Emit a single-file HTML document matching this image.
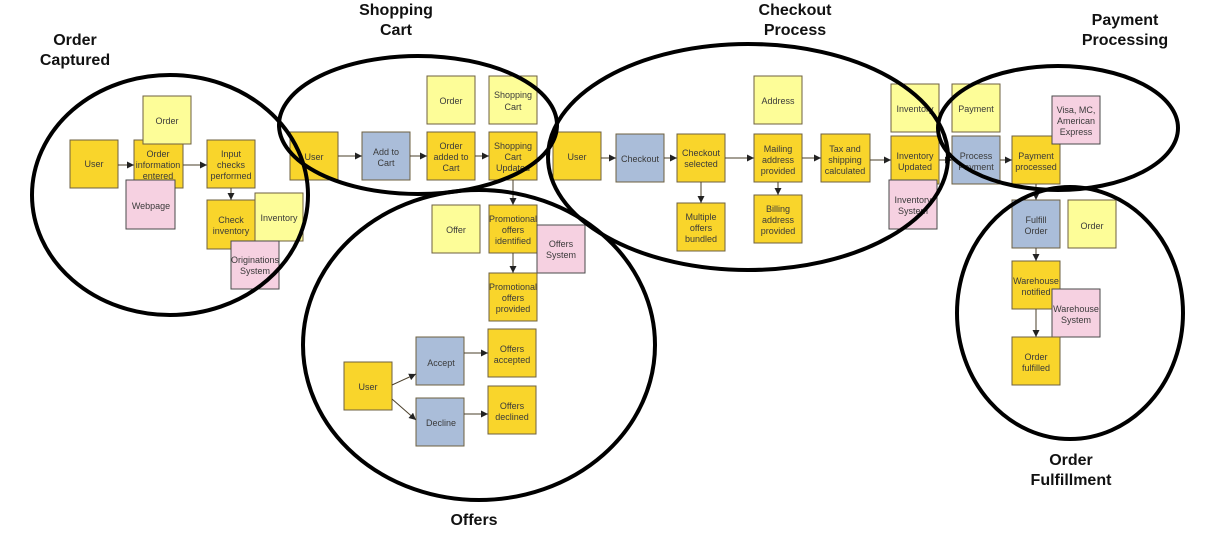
<!DOCTYPE html>
<html><head><meta charset="utf-8"><style>
html,body{margin:0;padding:0;background:#fff;}
svg{display:block;}
.t{font-family:"Liberation Sans",sans-serif;font-size:9px;fill:#3a3a3a;text-anchor:middle;}
.h{font-family:"Liberation Sans",sans-serif;font-size:16px;font-weight:bold;fill:#111;text-anchor:middle;}
.d{fill:#f9d52b;stroke:#6e6040;stroke-width:1;}
.l{fill:#fdfd98;stroke:#6e6040;stroke-width:1;}
.p{fill:#f6d1e1;stroke:#4a4a4a;stroke-width:1;}
.b{fill:#aabdd9;stroke:#6e6040;stroke-width:1;}
.a{stroke:#4a3f2a;stroke-width:1;fill:none;marker-end:url(#m);}
.e{fill:none;stroke:#000;stroke-width:4;}
</style></head><body>
<svg width="1218" height="546" viewBox="0 0 1218 546" xmlns="http://www.w3.org/2000/svg">
<defs><marker id="m" viewBox="0 0 10 10" refX="10" refY="5" markerWidth="7" markerHeight="7" orient="auto" markerUnits="userSpaceOnUse"><path d="M0,0L10,5L0,10z" fill="#222"/></marker></defs>

<!-- Order Captured -->
<rect class="d" x="70" y="140" width="48" height="48"/><text class="t" x="94" y="167">User</text>
<rect class="d" x="134" y="140" width="49" height="48"/>
<rect class="l" x="143" y="96" width="48" height="48"/><text class="t" x="167" y="124">Order</text>
<text class="t" x="158" y="157">Order</text><text class="t" x="158" y="168">information</text><text class="t" x="158" y="179">entered</text>
<rect class="p" x="126" y="180" width="49" height="49"/><text class="t" x="151" y="209">Webpage</text>
<rect class="d" x="207" y="140" width="48" height="48"/><text class="t" x="231" y="157">Input</text><text class="t" x="231" y="168">checks</text><text class="t" x="231" y="179">performed</text>
<rect class="d" x="207" y="200" width="48" height="49"/><text class="t" x="231" y="223">Check</text><text class="t" x="231" y="234">inventory</text>
<rect class="l" x="255" y="193" width="48" height="48"/><text class="t" x="279" y="221">Inventory</text>
<rect class="p" x="231" y="241" width="48" height="48"/><text class="t" x="255" y="263">Originations</text><text class="t" x="255" y="274">System</text>
<line class="a" x1="118" y1="165" x2="134" y2="165"/>
<line class="a" x1="183" y1="165" x2="207" y2="165"/>
<line class="a" x1="231" y1="188" x2="231" y2="200"/>

<!-- Shopping Cart -->
<rect class="d" x="290" y="132" width="48" height="48"/><text class="t" x="314" y="160">User</text>
<rect class="b" x="362" y="132" width="48" height="48"/><text class="t" x="386" y="155">Add to</text><text class="t" x="386" y="166">Cart</text>
<rect class="d" x="427" y="132" width="48" height="48"/><text class="t" x="451" y="149">Order</text><text class="t" x="451" y="160">added to</text><text class="t" x="451" y="171">Cart</text>
<rect class="d" x="489" y="132" width="48" height="48"/><text class="t" x="513" y="149">Shopping</text><text class="t" x="513" y="160">Cart</text><text class="t" x="513" y="171">Updated</text>
<rect class="l" x="427" y="76" width="48" height="48"/><text class="t" x="451" y="104">Order</text>
<rect class="l" x="489" y="76" width="48" height="48"/><text class="t" x="513" y="98">Shopping</text><text class="t" x="513" y="110">Cart</text>
<line class="a" x1="338" y1="156" x2="362" y2="156"/>
<line class="a" x1="410" y1="156" x2="427" y2="156"/>
<line class="a" x1="475" y1="156" x2="489" y2="156"/>
<line class="a" x1="513" y1="180" x2="513" y2="205"/>

<!-- Offers -->
<rect class="l" x="432" y="205" width="48" height="48"/><text class="t" x="456" y="233">Offer</text>
<rect class="d" x="489" y="205" width="48" height="48"/><text class="t" x="513" y="222">Promotional</text><text class="t" x="513" y="233">offers</text><text class="t" x="513" y="244">identified</text>
<rect class="p" x="537" y="225" width="48" height="48"/><text class="t" x="561" y="247">Offers</text><text class="t" x="561" y="258">System</text>
<rect class="d" x="489" y="273" width="48" height="48"/><text class="t" x="513" y="290">Promotional</text><text class="t" x="513" y="301">offers</text><text class="t" x="513" y="312">provided</text>
<line class="a" x1="513" y1="253" x2="513" y2="273"/>
<rect class="d" x="344" y="362" width="48" height="48"/><text class="t" x="368" y="390">User</text>
<rect class="b" x="416" y="337" width="48" height="48"/><text class="t" x="441" y="366">Accept</text>
<rect class="b" x="416" y="398" width="48" height="48"/><text class="t" x="441" y="426">Decline</text>
<rect class="d" x="488" y="329" width="48" height="48"/><text class="t" x="512" y="352">Offers</text><text class="t" x="512" y="363">accepted</text>
<rect class="d" x="488" y="386" width="48" height="48"/><text class="t" x="512" y="409">Offers</text><text class="t" x="512" y="420">declined</text>
<line class="a" x1="392" y1="385" x2="416" y2="374"/>
<line class="a" x1="392" y1="399" x2="416" y2="420"/>
<line class="a" x1="464" y1="353" x2="488" y2="353"/>
<line class="a" x1="464" y1="414" x2="488" y2="414"/>

<!-- Checkout -->
<rect class="d" x="553" y="132" width="48" height="48"/><text class="t" x="577" y="160">User</text>
<rect class="b" x="616" y="134" width="48" height="48"/><text class="t" x="640" y="162">Checkout</text>
<rect class="d" x="677" y="134" width="48" height="48"/><text class="t" x="701" y="156">Checkout</text><text class="t" x="701" y="167">selected</text>
<rect class="d" x="677" y="203" width="48" height="48"/><text class="t" x="701" y="220">Multiple</text><text class="t" x="701" y="231">offers</text><text class="t" x="701" y="242">bundled</text>
<rect class="l" x="754" y="76" width="48" height="48"/><text class="t" x="778" y="104">Address</text>
<rect class="d" x="754" y="134" width="48" height="48"/><text class="t" x="778" y="152">Mailing</text><text class="t" x="778" y="163">address</text><text class="t" x="778" y="174">provided</text>
<rect class="d" x="754" y="195" width="48" height="48"/><text class="t" x="778" y="212">Billing</text><text class="t" x="778" y="223">address</text><text class="t" x="778" y="234">provided</text>
<rect class="d" x="821" y="134" width="49" height="48"/><text class="t" x="845" y="152">Tax and</text><text class="t" x="845" y="163">shipping</text><text class="t" x="845" y="174">calculated</text>
<rect class="l" x="891" y="84" width="48" height="48"/><text class="t" x="915" y="112">Inventory</text>
<rect class="d" x="891" y="136" width="48" height="48"/><text class="t" x="915" y="159">Inventory</text><text class="t" x="915" y="170">Updated</text>
<rect class="p" x="889" y="180" width="48" height="49"/><text class="t" x="913" y="203">Inventory</text><text class="t" x="913" y="214">System</text>
<line class="a" x1="601" y1="158" x2="616" y2="158"/>
<line class="a" x1="664" y1="158" x2="677" y2="158"/>
<line class="a" x1="725" y1="158" x2="754" y2="158"/>
<line class="a" x1="701" y1="182" x2="701" y2="203"/>
<line class="a" x1="778" y1="182" x2="778" y2="195"/>
<line class="a" x1="802" y1="158" x2="821" y2="158"/>
<line class="a" x1="870" y1="160" x2="891" y2="160"/>

<!-- Payment -->
<rect class="l" x="952" y="84" width="48" height="48"/><text class="t" x="976" y="112">Payment</text>
<rect class="b" x="952" y="136" width="48" height="48"/><text class="t" x="976" y="159">Process</text><text class="t" x="976" y="170">Payment</text>
<rect class="d" x="1012" y="136" width="48" height="48"/><text class="t" x="1036" y="159">Payment</text><text class="t" x="1036" y="170">processed</text>
<rect class="p" x="1052" y="96" width="48" height="48"/><text class="t" x="1076" y="113">Visa, MC,</text><text class="t" x="1076" y="124">American</text><text class="t" x="1076" y="135">Express</text>
<line class="a" x1="939" y1="160" x2="952" y2="160"/>
<line class="a" x1="1000" y1="160" x2="1012" y2="160"/>

<!-- Fulfillment -->
<rect class="b" x="1012" y="200" width="48" height="48"/><text class="t" x="1036" y="223">Fulfill</text><text class="t" x="1036" y="234">Order</text>
<rect class="l" x="1068" y="200" width="48" height="48"/><text class="t" x="1092" y="229">Order</text>
<rect class="d" x="1012" y="261" width="48" height="48"/><text class="t" x="1036" y="284">Warehouse</text><text class="t" x="1036" y="295">notified</text>
<rect class="p" x="1052" y="289" width="48" height="48"/><text class="t" x="1076" y="312">Warehouse</text><text class="t" x="1076" y="323">System</text>
<rect class="d" x="1012" y="337" width="48" height="48"/><text class="t" x="1036" y="360">Order</text><text class="t" x="1036" y="371">fulfilled</text>
<line class="a" x1="1036" y1="184" x2="1036" y2="200"/>
<line class="a" x1="1036" y1="248" x2="1036" y2="261"/>
<line class="a" x1="1036" y1="309" x2="1036" y2="337"/>

<!-- Ellipses -->
<ellipse class="e" cx="170" cy="195" rx="138" ry="120"/>
<ellipse class="e" cx="418" cy="125" rx="139" ry="69"/>
<ellipse class="e" cx="479" cy="345" rx="176" ry="155"/>
<ellipse class="e" cx="748" cy="157" rx="200" ry="113"/>
<ellipse class="e" cx="1058" cy="128" rx="120" ry="62"/>
<ellipse class="e" cx="1070" cy="313" rx="113" ry="126"/>

<!-- Titles -->
<text class="h" x="75" y="45">Order</text><text class="h" x="75" y="65">Captured</text>
<text class="h" x="396" y="15">Shopping</text><text class="h" x="396" y="35">Cart</text>
<text class="h" x="795" y="15">Checkout</text><text class="h" x="795" y="35">Process</text>
<text class="h" x="1125" y="25">Payment</text><text class="h" x="1125" y="45">Processing</text>
<text class="h" x="1071" y="465">Order</text><text class="h" x="1071" y="485">Fulfillment</text>
<text class="h" x="474" y="525">Offers</text>
</svg>
</body></html>
